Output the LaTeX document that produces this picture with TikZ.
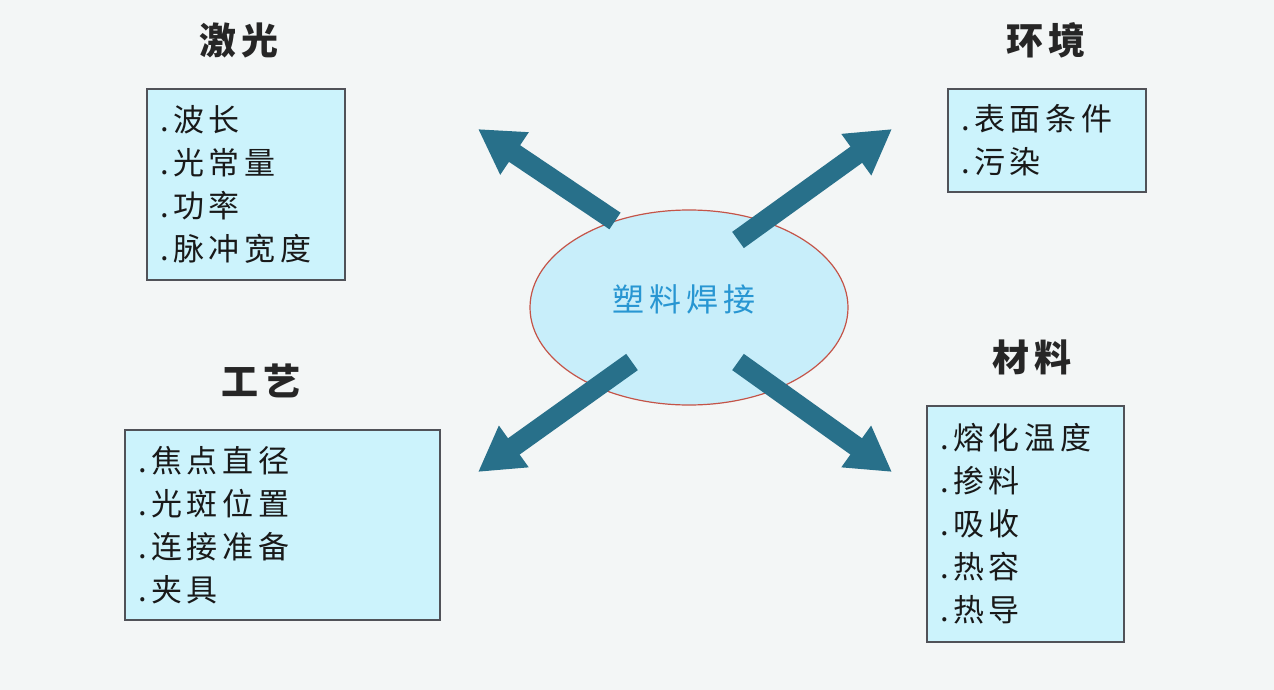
\documentclass[tikz,border=0pt]{standalone}
\usepackage{fontspec}
\newfontfamily\cjk[LetterSpace=15]{Noto Sans CJK SC}
\usetikzlibrary{shapes.geometric,arrows.meta}

\definecolor{bgcol}{RGB}{243,246,246}
\definecolor{boxfill}{RGB}{204,243,252}
\definecolor{boxline}{RGB}{80,82,88}
\definecolor{hubfill}{RGB}{200,238,250}
\definecolor{hubline}{RGB}{196,84,72}
\definecolor{hubtext}{RGB}{40,150,210}
\definecolor{arrowcol}{RGB}{40,112,138}

\begin{document}
\begin{tikzpicture}[x=1pt,y=-1pt,
        title/.style={font=\cjk\bfseries\fontsize{37}{40}\selectfont, text=black!85},
        itembox/.style={rectangle, draw=boxline, line width=1.5pt, fill=boxfill,
            align=left, inner xsep=13pt, text=black!90,
            font=\cjk\fontsize{31}{43}\selectfont},
        hub/.style={ellipse, draw=hubline, line width=1.2pt, fill=hubfill,
            minimum width=318pt, minimum height=195pt},
        hublabel/.style={text=hubtext, font=\cjk\fontsize{32}{34}\selectfont},
        bigarrow/.style={draw=arrowcol, line width=20pt,
            -{Triangle[width=48pt,length=44pt]}}]
                %%background
                \fill[bgcol] (0,0) rectangle (1274,690);

                %%titles
                \node[title] (tlaser) at (239,40) {激光};
                \node[title] (tenv) at (1046,40) {环境};
                \node[title] (tproc) at (261,381) {工艺};
                \node[title] (tmat) at (1032,357) {材料};

                %%boxes
                \node[itembox, text width=172pt, minimum height=191pt] (laser)
                    at (246,184.5) {.波长\\.光常量\\.功率\\.脉冲宽度};
                \node[itembox, text width=172pt, minimum height=103pt] (env)
                    at (1047,140.5) {.表面条件\\.污染};
                \node[itembox, text width=289pt, minimum height=190pt] (proc)
                    at (282.5,525) {.焦点直径\\.光斑位置\\.连接准备\\.夹具};
                \node[itembox, text width=171pt, minimum height=236pt] (mat)
                    at (1025.5,524) {.熔化温度\\.掺料\\.吸收\\.热容\\.热导};

                %%centre
                \node[hub] (weld) at (689,307.5) {};
                \node[hublabel] (weldtext) at (684,299) {塑料焊接};

                %%arrows
                \coordinate (ulfoot) at (615,221);
                \coordinate (ultip) at (478,129);
                \coordinate (urfoot) at (738,240);
                \coordinate (urtip) at (892,129);
                \coordinate (llfoot) at (632,362);
                \coordinate (lltip) at (478,472);
                \coordinate (lrfoot) at (738,362);
                \coordinate (lrtip) at (892,472);
                \draw[bigarrow] (ulfoot) -- (ultip);
                \draw[bigarrow] (urfoot) -- (urtip);
                \draw[bigarrow] (llfoot) -- (lltip);
                \draw[bigarrow] (lrfoot) -- (lrtip);
\end{tikzpicture}
\end{document}
